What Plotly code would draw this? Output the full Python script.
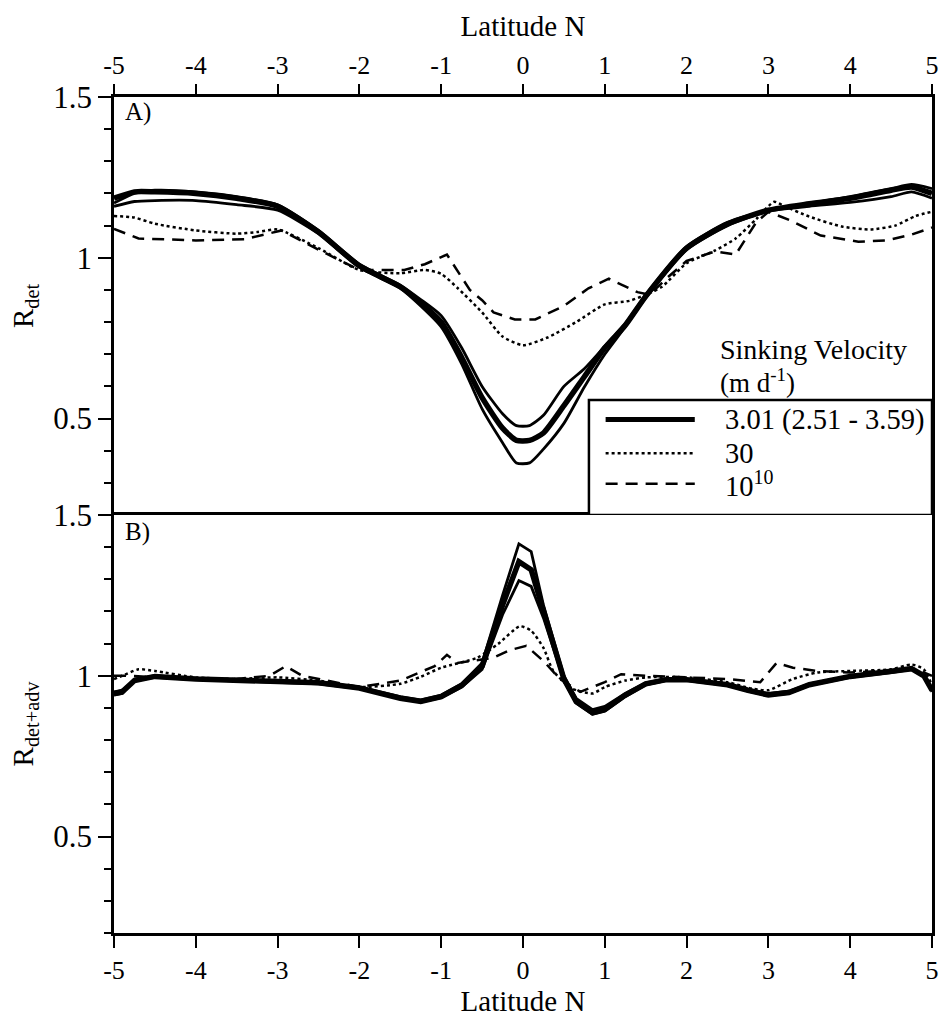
import plotly.graph_objects as go

# ---------------- data ----------------
# Panel A: detritus ratio R_det vs latitude
lat_a_solid = [-5, -4.75, -4.5, -4, -3.5, -3, -2.5, -2, -1.5, -1.25, -1, -0.75, -0.5, -0.25,
               -0.08, 0.08, 0.25, 0.5, 0.75, 1, 1.25, 1.5, 2, 2.5, 3, 3.5, 4, 4.5, 4.75, 5]
rdet_hi = [1.17, 1.20, 1.21, 1.205, 1.19, 1.165, 1.085, 0.98, 0.915, 0.87, 0.82, 0.72, 0.60, 0.515,
           0.478, 0.478, 0.51, 0.60, 0.655, 0.725, 0.795, 0.885, 1.035, 1.11, 1.148, 1.17, 1.19,
           1.215, 1.228, 1.215]
rdet_mid = [1.185, 1.205, 1.205, 1.20, 1.185, 1.16, 1.08, 0.975, 0.91, 0.86, 0.80, 0.69, 0.565, 0.47,
            0.432, 0.432, 0.455, 0.54, 0.63, 0.72, 0.79, 0.88, 1.03, 1.105, 1.148, 1.168, 1.185,
            1.21, 1.22, 1.20]
rdet_lo = [1.16, 1.175, 1.178, 1.178, 1.165, 1.148, 1.075, 0.97, 0.905, 0.85, 0.785, 0.67, 0.53, 0.425,
           0.362, 0.362, 0.405, 0.485, 0.598, 0.70, 0.785, 0.875, 1.025, 1.10, 1.145, 1.16, 1.172,
           1.19, 1.205, 1.185]

lat_a_dot = [-5, -4.75, -4.5, -4, -3.5, -3.25, -3, -2.5, -2, -1.5, -1.2, -1, -0.8, -0.5, -0.25, 0,
             0.3, 0.65, 1.0, 1.3, 1.5, 1.7, 2.0, 2.35, 2.6, 2.85, 3.07, 3.2, 3.5, 3.9, 4.25, 4.55,
             4.8, 5]
rdet_30 = [1.13, 1.125, 1.106, 1.085, 1.075, 1.08, 1.088, 1.03, 0.962, 0.952, 0.962, 0.95, 0.906,
           0.83, 0.755, 0.728, 0.752, 0.80, 0.855, 0.866, 0.885, 0.91, 0.983, 1.023, 1.06, 1.12,
           1.174, 1.16, 1.128, 1.097, 1.088, 1.10, 1.13, 1.143]

lat_a_dash = [-5, -4.7, -4, -3.4, -2.95, -2.5, -2.0, -1.8, -1.45, -1.2, -0.93, -0.65, -0.5, -0.36,
              -0.1, 0.15, 0.5, 0.8, 1.05, 1.4, 1.55, 1.75, 2.0, 2.35, 2.6, 2.85, 3.0, 3.28, 3.64,
              4.1, 4.45, 4.75, 5]
rdet_1e10 = [1.09, 1.06, 1.054, 1.058, 1.085, 1.025, 0.962, 0.962, 0.962, 0.98, 1.01, 0.9, 0.868,
             0.83, 0.808, 0.808, 0.85, 0.905, 0.935, 0.893, 0.885, 0.935, 0.99, 1.02, 1.01, 1.11,
             1.143, 1.115, 1.069, 1.05, 1.054, 1.072, 1.094]

# Panel B: detritus + advection ratio R_det+adv vs latitude
lat_b_solid = [-5, -4.9, -4.75, -4.5, -4, -3.5, -3, -2.5, -2, -1.5, -1.25, -1, -0.75, -0.5, -0.25,
               -0.05, 0.1, 0.25, 0.5, 0.65, 0.85, 1.0, 1.25, 1.5, 1.75, 2, 2.5, 2.75, 3, 3.25, 3.5,
               4, 4.5, 4.75, 4.9, 5]
radv_hi = [0.94, 0.945, 0.99, 1.0, 0.99, 0.985, 0.985, 0.98, 0.965, 0.935, 0.925, 0.94, 0.975, 1.04,
           1.25, 1.41, 1.386, 1.22, 1.0, 0.93, 0.895, 0.905, 0.945, 0.978, 0.99, 0.99, 0.975,
           0.958, 0.945, 0.952, 0.975, 1.0, 1.015, 1.025, 1.0, 0.95]
radv_mid = [0.945, 0.95, 0.985, 0.998, 0.99, 0.985, 0.982, 0.978, 0.962, 0.93, 0.92, 0.935, 0.97,
            1.03, 1.22, 1.355, 1.33, 1.2, 0.99, 0.92, 0.885, 0.895, 0.94, 0.975, 0.988, 0.988,
            0.972, 0.955, 0.94, 0.948, 0.972, 0.998, 1.012, 1.022, 1.0, 0.955]
radv_lo = [0.95, 0.955, 0.985, 0.995, 0.988, 0.983, 0.98, 0.975, 0.96, 0.93, 0.918, 0.932, 0.965,
           1.02, 1.19, 1.296, 1.278, 1.18, 0.985, 0.915, 0.88, 0.89, 0.935, 0.972, 0.985, 0.985,
           0.97, 0.952, 0.938, 0.945, 0.97, 0.995, 1.01, 1.02, 0.998, 0.96]

lat_b_dot = [-5, -4.9, -4.7, -4.5, -4, -3.5, -3, -2.5, -2, -1.5, -1.25, -1, -0.56, -0.3, -0.04, 0.1,
             0.25, 0.37, 0.6, 0.85, 1.0, 1.25, 1.5, 2, 2.5, 2.8, 3, 3.3, 3.6, 4, 4.5, 4.75, 4.9, 5]
radv_30 = [0.99, 1.0, 1.02, 1.015, 0.995, 0.99, 0.995, 0.985, 0.965, 0.975, 0.997, 1.025, 1.056,
           1.1, 1.154, 1.14, 1.087, 1.015, 0.96, 0.945, 0.965, 0.985, 0.995, 0.995, 0.98, 0.96,
           0.955, 0.99, 1.01, 1.015, 1.02, 1.035, 1.02, 0.97]

lat_b_dash = [-5, -4.8, -4.5, -4, -3.5, -3.1, -2.9, -2.7, -2, -1.5, -1.08, -0.93, -0.8, -0.36, -0.16,
              0.04, 0.25, 0.45, 0.7, 1.0, 1.2, 1.5, 2.0, 2.5, 2.9, 3.1, 3.3, 3.6, 4, 4.5, 4.8, 5]
radv_1e10 = [1.0, 1.0, 0.995, 0.99, 0.99, 1.0, 1.03, 1.0, 0.965, 0.985, 1.03, 1.065, 1.04, 1.056,
             1.08, 1.093, 1.046, 0.99, 0.95, 0.98, 1.005, 1.0, 0.995, 0.99, 0.98, 1.04, 1.025,
             1.015, 1.01, 1.015, 1.02, 1.0]

lat_ticks = [-5, -4, -3, -2, -1, 0, 1, 2, 3, 4, 5]
lat_ticktext = ["-5", "-4", "-3", "-2", "-1", "0", "1", "2", "3", "4", "5"]
r_ticks = [0.5, 1, 1.5]
r_ticktext = ["0.5", "1", "1.5"]
legend_labels = ["3.01 (2.51 - 3.59)", "30", "10<sup>10</sup>"]

# ---------------- figure ----------------
FONT = "Liberation Serif, Times New Roman, serif"
BLACK = "black"

fig = go.Figure()


def add_line(x, y, xa, ya, width, dash="solid", shape="linear"):
    fig.add_trace(go.Scatter(
        x=x, y=y, xaxis=xa, yaxis=ya, mode="lines", showlegend=False,
        line=dict(color=BLACK, width=width, dash=dash, shape=shape, smoothing=0.6),
        hoverinfo="skip"))


# panel A
add_line(lat_a_solid, rdet_hi, "x", "y", 2.8, shape="spline")
add_line(lat_a_solid, rdet_mid, "x", "y", 5.5, shape="spline")
add_line(lat_a_solid, rdet_lo, "x", "y", 2.8, shape="spline")
add_line(lat_a_dot, rdet_30, "x", "y", 2.5, dash="dot", shape="spline")
add_line(lat_a_dash, rdet_1e10, "x", "y", 2.5, dash="12px,8px")

# panel B
add_line(lat_b_solid, radv_hi, "x2", "y2", 2.8)
add_line(lat_b_solid, radv_mid, "x2", "y2", 5.5)
add_line(lat_b_solid, radv_lo, "x2", "y2", 2.8)
add_line(lat_b_dot, radv_30, "x2", "y2", 2.5, dash="dot", shape="spline")
add_line(lat_b_dash, radv_1e10, "x2", "y2", 2.5, dash="12px,8px")

xaxis_common = dict(
    range=[-5, 5], tickmode="array", tickvals=lat_ticks, ticktext=lat_ticktext,
    ticks="outside", tickwidth=2, tickcolor=BLACK, showline=True, linewidth=2.5,
    linecolor=BLACK, showgrid=False, zeroline=False,
    tickfont=dict(family=FONT, size=26, color=BLACK),
)
yaxis_common = dict(
    range=[0.2, 1.5], tickmode="array", tickvals=r_ticks, ticktext=r_ticktext,
    ticks="outside", ticklen=13, tickwidth=2, tickcolor=BLACK,
    minor=dict(tick0=0, dtick=0.1, ticks="outside", ticklen=7, tickwidth=2, tickcolor=BLACK),
    showline=True, mirror=True, linewidth=2.5, linecolor=BLACK, showgrid=False, zeroline=False,
    tickfont=dict(family=FONT, size=31, color=BLACK),
)

fig.update_layout(
    width=949, height=1019,
    margin=dict(l=114, r=10, t=97, b=83),
    paper_bgcolor="white", plot_bgcolor="white",
    font=dict(family=FONT, color=BLACK),
    showlegend=False,
    xaxis=dict(xaxis_common, domain=[0, 1], anchor="y", side="top", ticklen=10,
               title=dict(text="Latitude N", font=dict(family=FONT, size=29), standoff=6)),
    xaxis2=dict(xaxis_common, domain=[0, 1], anchor="y2", side="bottom", ticklen=12, mirror=True,
                title=dict(text="Latitude N", font=dict(family=FONT, size=29), standoff=4)),
    yaxis=dict(yaxis_common, domain=[0.5, 1], anchor="x",
               title=dict(text="R<sub>det</sub>", font=dict(family=FONT, size=29), standoff=12)),
    yaxis2=dict(yaxis_common, domain=[0, 0.5], anchor="x2",
                title=dict(text="R<sub>det+adv</sub>", font=dict(family=FONT, size=29), standoff=12)),
)

# panel tags
for tag, ypos in (("A)", 0.982), ("B)", 0.480)):
    fig.add_annotation(x=0.011, y=ypos, xref="paper", yref="paper", text=tag, showarrow=False,
                       xanchor="left", yanchor="middle", font=dict(family=FONT, size=25))

# legend: title above a framed key in the lower right of panel A
fig.add_annotation(x=0.738, y=0.698, xref="paper", yref="paper", text="Sinking Velocity",
                   showarrow=False, xanchor="left", yanchor="middle",
                   font=dict(family=FONT, size=28))
fig.add_annotation(x=0.738, y=0.660, xref="paper", yref="paper", text="(m d<sup>-1</sup>)",
                   showarrow=False, xanchor="left", yanchor="middle",
                   font=dict(family=FONT, size=27))
fig.add_shape(type="rect", xref="x", yref="y", x0=0.806, x1=5, y0=0.2, y1=0.558,
              line=dict(color=BLACK, width=2.5), fillcolor="white", layer="above")

key_rows = [0.497, 0.392, 0.297]
key_styles = [dict(width=5, dash="solid"), dict(width=2.5, dash="dot"),
              dict(width=2.5, dash="12px,8px")]
for yk, style, label in zip(key_rows, key_styles, legend_labels):
    fig.add_shape(type="line", xref="x", yref="y", x0=1.01, x1=2.10, y0=yk, y1=yk,
                  line=dict(color=BLACK, **style), layer="above")
    fig.add_annotation(x=2.44, y=yk, xref="x", yref="y", text=label, showarrow=False,
                       xanchor="left", yanchor="middle", font=dict(family=FONT, size=28.5))

fig.write_html("out.html")
